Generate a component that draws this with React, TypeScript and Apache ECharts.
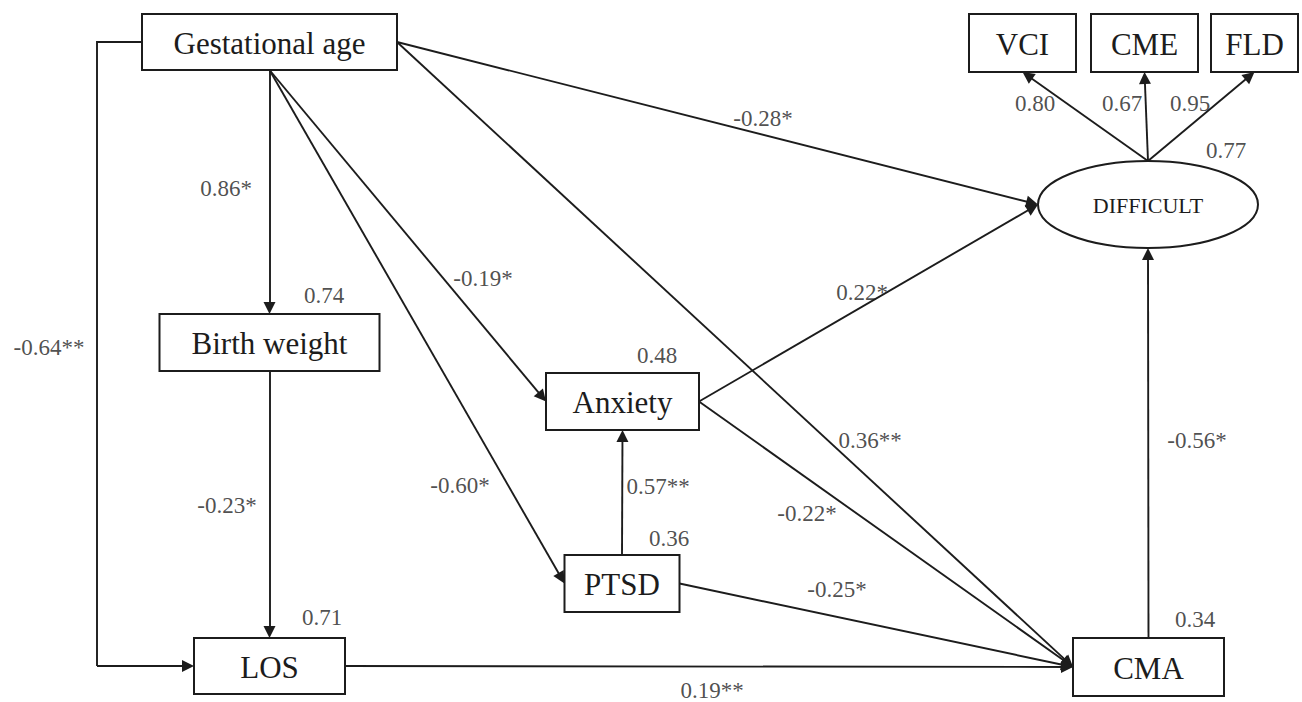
import React, { useEffect, useRef } from "react";
import * as echarts from "echarts";

// ---------- data ----------
const nodeNames = [
  "Gestational age",
  "Birth weight",
  "LOS",
  "Anxiety",
  "PTSD",
  "CMA",
  "DIFFICULT",
  "VCI",
  "CME",
  "FLD",
];
const latentNodes = ["DIFFICULT"];

// structural paths: [from, to, standardized coefficient]
const paths: [string, string, string][] = [
  ["Gestational age", "Birth weight", "0.86*"],
  ["Gestational age", "LOS", "-0.64**"],
  ["Birth weight", "LOS", "-0.23*"],
  ["Gestational age", "Anxiety", "-0.19*"],
  ["Gestational age", "PTSD", "-0.60*"],
  ["Gestational age", "DIFFICULT", "-0.28*"],
  ["Gestational age", "CMA", "0.36**"],
  ["PTSD", "Anxiety", "0.57**"],
  ["Anxiety", "DIFFICULT", "0.22*"],
  ["Anxiety", "CMA", "-0.22*"],
  ["PTSD", "CMA", "-0.25*"],
  ["LOS", "CMA", "0.19**"],
  ["CMA", "DIFFICULT", "-0.56*"],
  ["DIFFICULT", "VCI", "0.80"],
  ["DIFFICULT", "CME", "0.67"],
  ["DIFFICULT", "FLD", "0.95"],
];

// explained variance (R²) per endogenous node
const explained: [string, string][] = [
  ["Birth weight", "0.74"],
  ["LOS", "0.71"],
  ["Anxiety", "0.48"],
  ["PTSD", "0.36"],
  ["CMA", "0.34"],
  ["DIFFICULT", "0.77"],
];

// ---------- layout (pixel canvas 1302 x 702) ----------
const nodeBox: Record<string, [number, number, number, number]> = {
  "Gestational age": [269.5, 42, 255, 56],
  "Birth weight": [269.5, 342.5, 220, 57],
  LOS: [269.5, 666, 151, 56],
  Anxiety: [622.5, 401.5, 153, 57],
  PTSD: [622, 583.5, 115, 57],
  CMA: [1148.5, 667, 151, 58],
  DIFFICULT: [1148, 204.5, 220, 87],
  VCI: [1022.5, 43, 107, 58],
  CME: [1144.5, 43, 107, 58],
  FLD: [1254.5, 43, 87, 58],
};

const pathSides: [string, string][] = [
  ["bottom", "top"],
  ["left", "left"],
  ["bottom", "top"],
  ["bottom", "left"],
  ["bottom", "left"],
  ["right", "left"],
  ["right", "left"],
  ["top", "bottom"],
  ["right", "left"],
  ["right", "left"],
  ["right", "left"],
  ["right", "left"],
  ["top", "bottom"],
  ["top", "bottom"],
  ["top", "bottom"],
  ["top", "bottom"],
];
// intermediate route points (elbow connector)
const pathVia: Record<number, [number, number][]> = {
  1: [
    [97, 42],
    [97, 666],
  ],
};

const pathLabelPos: [number, number][] = [
  [226, 188],
  [49, 347],
  [227, 505],
  [483, 278],
  [460, 485],
  [763, 118],
  [870, 440],
  [658, 486],
  [862, 292],
  [807, 513],
  [837, 589],
  [712, 690],
  [1197, 440],
  [1035, 103],
  [1122, 103],
  [1190, 103],
];
const explainedPos: [number, number][] = [
  [324, 295],
  [322, 617],
  [657, 355],
  [669, 538],
  [1195, 619],
  [1226, 150],
];

const FONT = "Times New Roman, Liberation Serif, DejaVu Serif, serif";
const INK = "#1c1c1c";
const ARROW = 12;

function anchor(name: string, side: string): [number, number] {
  const [cx, cy, w, h] = nodeBox[name];
  if (side === "top") return [cx, cy - h / 2];
  if (side === "bottom") return [cx, cy + h / 2];
  if (side === "left") return [cx - w / 2, cy];
  return [cx + w / 2, cy];
}

export default function App() {
  const ref = useRef<HTMLDivElement>(null);

  useEffect(() => {
    if (!ref.current) return;
    const chart = echarts.init(ref.current, undefined, { renderer: "svg" });

    const arrowLines: any[] = [];
    const routeLines: any[] = [];
    paths.forEach(([from, to], i) => {
      const [fs, ts] = pathSides[i];
      let start = anchor(from, fs);
      const end = anchor(to, ts);
      const via = pathVia[i];
      if (via) {
        routeLines.push({ coords: [start, ...via] });
        start = via[via.length - 1];
      }
      const dx = end[0] - start[0];
      const dy = end[1] - start[1];
      const len = Math.hypot(dx, dy);
      const tip: [number, number] = [
        end[0] - (dx / len) * (ARROW / 2),
        end[1] - (dy / len) * (ARROW / 2),
      ];
      arrowLines.push({ coords: [start, tip] });
    });

    const nodeData = nodeNames.map((n) => ({ name: n, value: nodeBox[n] }));

    const labelData = paths.map((p, i) => ({ name: p[2], value: pathLabelPos[i] }));
    const r2Data = explained.map((e, i) => ({ name: e[1], value: explainedPos[i] }));

    const labelStyle = {
      show: true,
      position: "inside",
      formatter: "{b}",
      fontFamily: FONT,
      fontSize: 23,
      color: "#222222",
    };

    chart.setOption({
      animation: false,
      backgroundColor: "#ffffff",
      textStyle: { fontFamily: FONT },
      grid: { left: 0, right: 0, top: 0, bottom: 0 },
      xAxis: { type: "value", min: 0, max: 1302, show: false },
      yAxis: { type: "value", min: 0, max: 702, inverse: true, show: false },
      series: [
        {
          type: "lines",
          coordinateSystem: "cartesian2d",
          polyline: true,
          silent: true,
          z: 2,
          lineStyle: { color: INK, width: 1.9, opacity: 1, curveness: 0 },
          data: routeLines,
        },
        {
          type: "lines",
          coordinateSystem: "cartesian2d",
          silent: true,
          z: 2,
          symbol: ["none", "triangle"],
          symbolSize: ARROW,
          lineStyle: { color: INK, width: 1.9, opacity: 1, curveness: 0 },
          data: arrowLines,
        },
        {
          type: "custom",
          coordinateSystem: "cartesian2d",
          silent: true,
          z: 5,
          encode: { x: 0, y: 1 },
          data: nodeData,
          renderItem: (params: any, api: any) => {
            const name = nodeNames[params.dataIndex];
            const c = api.coord([api.value(0), api.value(1)]);
            const s = api.size([api.value(2), api.value(3)]);
            const w = Math.abs(s[0]);
            const h = Math.abs(s[1]);
            const latent = latentNodes.includes(name);
            const shape = latent
              ? {
                  type: "ellipse",
                  shape: { cx: c[0], cy: c[1], rx: w / 2, ry: h / 2 },
                  style: { fill: "#ffffff", stroke: INK, lineWidth: 2 },
                }
              : {
                  type: "rect",
                  shape: { x: c[0] - w / 2, y: c[1] - h / 2, width: w, height: h },
                  style: { fill: "#ffffff", stroke: INK, lineWidth: 2 },
                };
            return {
              type: "group",
              children: [
                shape,
                {
                  type: "text",
                  style: {
                    text: name,
                    x: c[0],
                    y: c[1] + 1,
                    align: "center",
                    verticalAlign: "middle",
                    fontFamily: FONT,
                    fontSize: latent ? 22 : 31,
                    fill: INK,
                  },
                },
              ],
            };
          },
        },
        {
          type: "scatter",
          silent: true,
          z: 6,
          symbolSize: 0,
          data: labelData,
          label: labelStyle,
        },
        {
          type: "scatter",
          silent: true,
          z: 6,
          symbolSize: 0,
          data: r2Data,
          label: labelStyle,
        },
      ],
    });

    return () => chart.dispose();
  }, []);

  return (
    <div
      ref={ref}
      style={{
        position: "fixed",
        left: 0,
        top: 0,
        width: 1302,
        height: 702,
        background: "#fff",
      }}
    />
  );
}
